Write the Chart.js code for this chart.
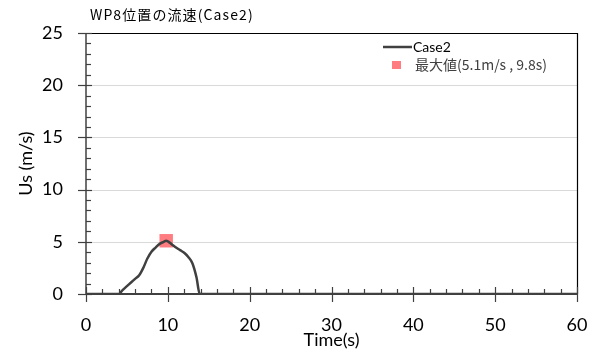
<!DOCTYPE html>
<html><head><meta charset="utf-8">
<script src="https://cdn.jsdelivr.net/npm/chart.js@4/dist/chart.umd.min.js"></script>
<style>html,body{margin:0;padding:0;background:#fff}#w{width:599px;height:356px}</style>
</head><body><div id="w"><canvas id="c" width="599" height="356"></canvas></div>
<script>
const title = "WP8位置の流速(Case2)";
const xTitle = "Time(s)";
const yTitle = "Us (m/s)";
const seriesName = "Case2";
const maxName = "最大値(5.1m/s , 9.8s)";
const times  = [0, 2, 4.0, 4.5, 5.0, 5.5, 6.0, 6.5, 7.0, 7.5, 8.0, 8.5, 9.0, 9.5, 9.8, 10.0, 10.5, 11.0, 11.5, 12.0, 12.5, 13.0, 13.5, 13.9, 16, 30, 60];
const speeds = [0, 0, 0.0, 0.4, 0.75, 1.1, 1.45, 1.8, 2.5, 3.4, 4.05, 4.45, 4.8, 5.0, 5.1, 5.05, 4.75, 4.45, 4.2, 3.95, 3.55, 2.95, 1.6, 0.0, 0, 0, 0];
const maxPoint = {x: 9.8, y: 5.1};
const xTicks = [0, 10, 20, 30, 40, 50, 60];
const yTicks = [0, 5, 10, 15, 20, 25];

const FONT = "Lato, 'Noto Sans CJK JP', sans-serif";

const decor = {
  id: 'decor',
  beforeDatasetsDraw(chart) {
    const {ctx, chartArea: a, scales: {x, y}} = chart;
    ctx.save();
    ctx.strokeStyle = '#d9d9d9'; ctx.lineWidth = 1;
    [5,10,15,20].forEach(v => { const py = Math.round(y.getPixelForValue(v)) + 0.5; ctx.beginPath(); ctx.moveTo(a.left, py); ctx.lineTo(a.right, py); ctx.stroke(); });
    ctx.strokeStyle = '#000'; ctx.lineWidth = 1.2;
    ctx.beginPath(); ctx.moveTo(a.left - 8, a.top + 0.5); ctx.lineTo(a.right + 0.5, a.top + 0.5); ctx.lineTo(a.right + 0.5, a.bottom); ctx.stroke();
    ctx.strokeStyle = '#404040'; ctx.lineWidth = 1.5;
    ctx.beginPath(); ctx.moveTo(a.left, a.top); ctx.lineTo(a.left, a.bottom); ctx.stroke();
    ctx.lineWidth = 1.2;
    for (let v = 0; v <= 25; v++) {
      const py = Math.round(y.getPixelForValue(v)) + 0.5;
      ctx.beginPath();
      if (v % 5 === 0) { ctx.moveTo(a.left - 8, py); ctx.lineTo(a.left + 6, py); }
      else { ctx.moveTo(a.left, py); ctx.lineTo(a.left + 5, py); }
      ctx.stroke();
    }
    ctx.lineWidth = 2;
    ctx.beginPath(); ctx.moveTo(a.left, a.bottom); ctx.lineTo(a.right, a.bottom); ctx.stroke();
    ctx.lineWidth = 1.2;
    for (let v = 0; v <= 60; v += 2) {
      const px = Math.round(x.getPixelForValue(v)) + 0.5;
      ctx.beginPath();
      if (v % 10 === 0) { ctx.moveTo(px, a.bottom - 7); ctx.lineTo(px, a.bottom + 8); }
      else { ctx.moveTo(px, a.bottom - 5); ctx.lineTo(px, a.bottom); }
      ctx.stroke();
    }
    ctx.restore();
  },
  afterDraw(chart) {
    const {ctx} = chart;
    ctx.save();
    ctx.fillStyle = '#000';
    ctx.font = "14px 'Noto Sans CJK JP', sans-serif";
    ctx.letterSpacing = '1.1px';
    ctx.textBaseline = 'middle'; ctx.textAlign = 'left';
    ctx.fillText(title, 90, 15);
    ctx.letterSpacing = '0px';
    ctx.strokeStyle = '#404040'; ctx.lineWidth = 2.5;
    ctx.beginPath(); ctx.moveTo(383, 47); ctx.lineTo(412, 47); ctx.stroke();
    ctx.font = "14px " + FONT;
    ctx.fillStyle = '#000';
    ctx.fillText(seriesName, 413, 47);
    ctx.fillStyle = '#ff7c80';
    ctx.fillRect(392, 61, 9, 8);
    ctx.fillStyle = '#404040';
    ctx.font = "14px 'Noto Sans CJK JP', " + FONT;
    ctx.fillText(maxName, 415, 65);
    ctx.restore();
  }
};

new Chart(document.getElementById('c'), {
  type: 'scatter',
  data: {
    datasets: [
      { label: maxName, data: [maxPoint], pointStyle: 'rect', pointRadius: 9.5, backgroundColor: '#ff7c80', borderWidth: 0, order: 2 },
      { label: seriesName, data: times.map((t, i) => ({x: t, y: speeds[i]})), showLine: true, borderColor: '#404040', borderWidth: 2.5, pointRadius: 0, cubicInterpolationMode: 'monotone', order: 1 }
    ]
  },
  options: {
    responsive: false, animation: false, events: [],
    layout: { padding: {top: 33, right: 22, left: 0, bottom: 0} },
    plugins: { legend: {display: false}, tooltip: {enabled: false} },
    scales: {
      x: {
        type: 'linear', min: 0, max: 60,
        afterBuildTicks: s => { s.ticks = xTicks.map(v => ({value: v})); },
        afterFit: s => { s.height = 62; s.paddingLeft = 0; s.paddingRight = 0; },
        grid: { display: false, drawTicks: false }, border: { display: false },
        ticks: { padding: 20, color: '#000', font: {family: FONT, size: 18}, maxRotation: 0 },
        title: { display: true, text: xTitle, color: '#000', font: {family: FONT, size: 18}, padding: {top: 0, bottom: 5} }
      },
      y: {
        min: 0, max: 25,
        afterBuildTicks: s => { s.ticks = yTicks.map(v => ({value: v})); },
        afterFit: s => { s.width = 86; s.paddingTop = 0; s.paddingBottom = 0; },
        grid: { display: false, drawTicks: false }, border: { display: false },
        ticks: { padding: 23, color: '#000', font: {family: FONT, size: 18} },
        title: { display: true, text: yTitle, color: '#000', font: {family: FONT, size: 18}, padding: {top: 15, bottom: 0} }
      }
    }
  },
  plugins: [decor]
});
</script></body></html>
